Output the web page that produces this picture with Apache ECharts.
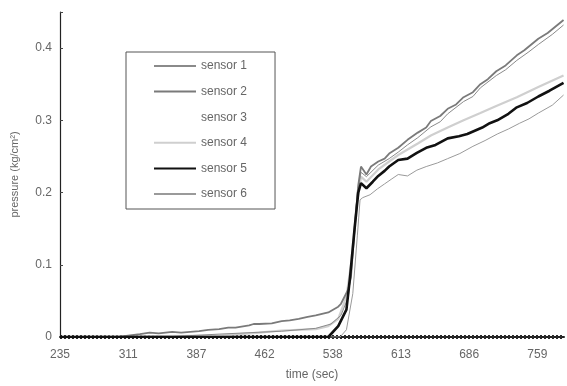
<!DOCTYPE html>
<html>
<head>
<meta charset="utf-8">
<script src="https://cdn.jsdelivr.net/npm/echarts@6/dist/echarts.min.js"></script>
<style>html,body{margin:0;padding:0;background:#fff}#c{width:567px;height:386px}</style>
</head>
<body>
<div id="c"></div>
<script>
// tick labels of the time axis (evenly spaced ticks in the original)
var timeTicks = [235, 311, 387, 462, 538, 613, 686, 759];
var yTicks = [0, 0.1, 0.2, 0.3, 0.4];
var seriesNames = ['sensor 1', 'sensor 2', 'sensor 3', 'sensor 4', 'sensor 5', 'sensor 6'];

// [time (sec), pressure (kg/cm2)]
var sensor1 = [[235,0],[350,0],[412,0.004],[481,0.008],[519,0.012],[536,0.018],[547,0.03],[555,0.055],[560,0.12],[565,0.2],[569,0.228],[575,0.222],[588,0.238],[600,0.247],[610,0.256],[620,0.266],[631,0.276],[645,0.291],[655,0.298],[663,0.309],[680,0.326],[690,0.333],[698,0.345],[715,0.362],[725,0.37],[737,0.383],[750,0.395],[760,0.405],[775,0.419],[787,0.432]];
var sensor2 = [[235,0],[300,0],[324,0.004],[335,0.006],[345,0.005],[360,0.007],[370,0.006],[390,0.008],[400,0.01],[412,0.011],[422,0.013],[430,0.013],[445,0.016],[450,0.018],[456,0.018],[470,0.019],[481,0.022],[490,0.023],[500,0.025],[510,0.028],[519,0.03],[533,0.034],[544,0.042],[547,0.046],[555,0.066],[558,0.083],[562,0.15],[566,0.21],[569,0.236],[575,0.225],[580,0.236],[588,0.243],[595,0.247],[600,0.254],[610,0.262],[620,0.273],[631,0.283],[640,0.29],[645,0.299],[655,0.306],[663,0.316],[672,0.322],[680,0.332],[690,0.339],[698,0.35],[706,0.357],[715,0.368],[725,0.376],[737,0.39],[745,0.397],[760,0.413],[770,0.421],[787,0.439]];
var sensor3 = [[235,0],[787,0]];
var sensor4 = [[235,0],[412,0.002],[456,0.006],[481,0.009],[519,0.011],[533,0.015],[544,0.025],[553,0.056],[558,0.1],[564,0.18],[569,0.222],[575,0.215],[588,0.232],[600,0.243],[610,0.252],[631,0.268],[645,0.279],[663,0.29],[680,0.3],[698,0.31],[715,0.32],[737,0.332],[760,0.346],[787,0.362]];
var sensor5 = [[235,0],[533,0],[544,0.015],[553,0.038],[557,0.083],[562,0.15],[566,0.2],[569,0.213],[575,0.206],[582,0.215],[588,0.223],[595,0.23],[600,0.236],[610,0.245],[620,0.247],[630,0.255],[640,0.262],[650,0.266],[663,0.275],[675,0.278],[684,0.281],[700,0.29],[708,0.296],[716,0.3],[728,0.309],[737,0.318],[748,0.324],[760,0.333],[772,0.341],[787,0.352]];
var sensor6 = [[235,0],[546,0],[553,0.01],[560,0.06],[565,0.14],[568,0.19],[571,0.193],[579,0.197],[587,0.205],[595,0.212],[603,0.219],[610,0.225],[620,0.223],[630,0.231],[640,0.236],[652,0.241],[663,0.247],[676,0.254],[690,0.264],[703,0.272],[716,0.281],[728,0.288],[740,0.296],[750,0.302],[760,0.31],[775,0.321],[787,0.335]];

function timeToIdx(t) {
  var n = timeTicks.length;
  for (var i = 0; i < n - 1; i++) {
    if (t <= timeTicks[i + 1]) return i + (t - timeTicks[i]) / (timeTicks[i + 1] - timeTicks[i]);
  }
  return (n - 1) + (t - timeTicks[n - 1]) / (timeTicks[n - 1] - timeTicks[n - 2]);
}
function conv(arr) { return arr.map(function (p) { return [timeToIdx(p[0]), p[1]]; }); }

var styles = [
  {color: '#8a8a8a', width: 1},
  {color: '#7a7a7a', width: 1.8},
  {color: '#2a2a2a', width: 4, type: [2, 2]},
  {color: '#cfcfcf', width: 2.2},
  {color: '#111111', width: 2.6},
  {color: '#9a9a9a', width: 1}
];
var datas = [sensor1, sensor2, sensor3, sensor4, sensor5, sensor6];
var order = [2, 3, 5, 0, 1, 4];
var series = order.map(function (k) {
  return {
    name: seriesNames[k], type: 'line', symbol: 'none', showSymbol: false,
    data: conv(datas[k]), lineStyle: styles[k], itemStyle: {color: styles[k].color},
    z: 2 + order.indexOf(k)
  };
});

var chart = echarts.init(document.getElementById('c'), null, {renderer: 'canvas'});
chart.setOption({
  animation: false,
  backgroundColor: '#fff',
  textStyle: {fontFamily: 'Liberation Sans, Arial, sans-serif'},
  grid: {left: 60, right: 0, top: 12, bottom: 45},
  legend: {
    orient: 'vertical', left: 126, top: 52,
    data: seriesNames.map(function (n, i) {
      return i === 2 ? {name: n, lineStyle: {opacity: 0}} : {name: n};
    }),
    itemStyle: {opacity: 0},
    borderColor: '#555', borderWidth: 1,
    padding: [8, 28, 9, 27],
    itemWidth: 42, itemHeight: 14, itemGap: 13.6,
    textStyle: {fontSize: 12, color: '#666', fontFamily: 'Liberation Sans, Arial, sans-serif'}
  },
  xAxis: {
    type: 'value', min: 0, max: timeToIdx(787.5), interval: 1,
    name: 'time (sec)', nameLocation: 'middle', nameGap: 32,
    nameTextStyle: {fontSize: 12, color: '#666'},
    axisLine: {lineStyle: {color: '#222', width: 2}},
    axisTick: {show: false},
    splitLine: {show: false},
    axisLabel: {
      fontSize: 12, color: '#666', margin: 12, showMaxLabel: true,
      formatter: function (v) {
        var r = Math.round(v);
        if (Math.abs(v - r) > 1e-6 || r < 0 || r >= timeTicks.length) return '';
        return String(timeTicks[r]);
      }
    }
  },
  yAxis: {
    type: 'value', min: 0, max: 0.45, interval: 0.1,
    name: 'pressure (kg/cm²)', nameLocation: 'middle', nameGap: 40,
    nameTextStyle: {fontSize: 11, color: '#666'},
    axisLine: {show: true, lineStyle: {color: '#222', width: 1.2}},
    axisTick: {show: true, inside: true, length: 3, lineStyle: {color: '#444'}},
    splitLine: {show: false},
    axisLabel: {
      fontSize: 12, color: '#666', margin: 8,
      formatter: function (v) {
        for (var i = 0; i < yTicks.length; i++) {
          if (Math.abs(v - yTicks[i]) < 1e-6) return yTicks[i] === 0 ? '0' : yTicks[i].toFixed(1);
        }
        return '';
      }
    }
  },
  series: series
});
</script>
</body>
</html>
